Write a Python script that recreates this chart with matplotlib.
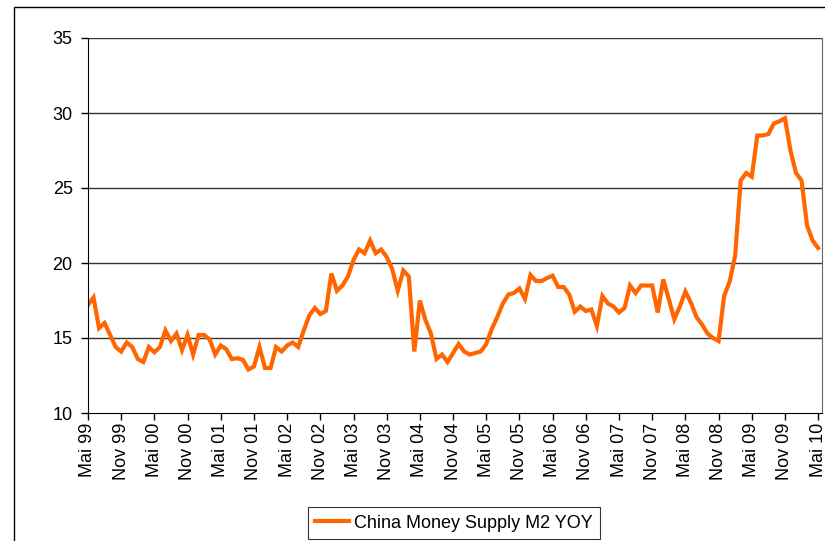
import matplotlib.pyplot as plt
from matplotlib.patches import Rectangle

plt.rcParams['font.family'] = ['Liberation Sans', 'DejaVu Sans']

# China M2 money supply, year over year %, monthly May 1999 - May 2010
m2_yoy = [17.2, 17.7, 15.65, 16.0, 15.2, 14.4, 14.1, 14.7, 14.4, 13.6,
          13.4, 14.4, 14.05, 14.4, 15.5, 14.8, 15.3, 14.2, 15.2, 13.9,
          15.2, 15.2, 14.9, 13.9, 14.5, 14.25, 13.6, 13.65, 13.55, 12.9,
          13.1, 14.4, 13.0, 13.0, 14.4, 14.1, 14.5, 14.7, 14.4, 15.5,
          16.5, 17.0, 16.6, 16.8, 19.3, 18.15, 18.5, 19.1, 20.2, 20.9,
          20.65, 21.5, 20.65, 20.9, 20.4, 19.6, 18.15, 19.5, 19.1, 14.1,
          17.5, 16.2, 15.3, 13.6, 13.9, 13.4, 14.0, 14.6, 14.1, 13.9,
          14.0, 14.1, 14.6, 15.6, 16.4, 17.3, 17.9, 18.0, 18.3, 17.6,
          19.2, 18.8, 18.8, 19.0, 19.15, 18.4, 18.4, 17.9, 16.75, 17.1,
          16.8, 16.9, 15.8, 17.8, 17.3, 17.1, 16.7, 17.0, 18.5, 18.0,
          18.5, 18.5, 18.5, 16.7, 18.9, 17.6, 16.25, 17.1, 18.1, 17.35,
          16.4, 15.9, 15.3, 15.0, 14.8, 17.8, 18.75, 20.5, 25.5, 26.0,
          25.75, 28.5, 28.5, 28.6, 29.3, 29.45, 29.65, 27.5, 26.0, 25.5,
          22.5, 21.5, 21.0]

tick_labels = ['Mai 99', 'Nov 99', 'Mai 00', 'Nov 00', 'Mai 01', 'Nov 01',
               'Mai 02', 'Nov 02', 'Mai 03', 'Nov 03', 'Mai 04', 'Nov 04',
               'Mai 05', 'Nov 05', 'Mai 06', 'Nov 06', 'Mai 07', 'Nov 07',
               'Mai 08', 'Nov 08', 'Mai 09', 'Nov 09', 'Mai 10']
y_ticks = [10, 15, 20, 25, 30, 35]

fig = plt.figure(figsize=(8.25, 5.41), dpi=100)
ax = fig.add_axes([88 / 825, 1 - 413 / 541, (822 - 88) / 825, (413 - 38) / 541])

months = list(range(len(m2_yoy)))
line, = ax.plot(months, m2_yoy, color='#FF6600', lw=3.0,
                solid_joinstyle='miter', label='China Money Supply M2 YOY')

ax.set_xlim(0, 132.7)
ax.set_ylim(10, 35)
ax.set_yticks(y_ticks)
ax.set_xticks(range(0, 6 * len(tick_labels), 6))
ax.set_xticklabels(tick_labels, rotation=90, fontsize=13)
ax.tick_params(axis='y', labelsize=13, length=5, width=1, direction='out', pad=6)
ax.tick_params(axis='x', length=5, width=1, direction='out', pad=2)

for v in y_ticks[1:]:
    ax.axhline(v, color='#333333', lw=1, zorder=1)

ax.spines['left'].set_color('black')
ax.spines['bottom'].set_color('black')
ax.spines['top'].set_visible(False)
ax.spines['right'].set_color('#666666')

leg = fig.legend(handles=[line], loc='center', bbox_to_anchor=(454 / 825, 1 - 523 / 541),
                 fontsize=13, frameon=True, fancybox=False, edgecolor='black',
                 handlelength=1.9, borderpad=0.4, handletextpad=0.3)
leg.get_frame().set_linewidth(0.8)

# chart area border
fig.patches.append(Rectangle((13.5 / 825, -0.01), 1.0, 1 - 7 / 541 + 0.01,
                             transform=fig.transFigure, fill=False,
                             edgecolor='black', lw=1))

fig.savefig('out.png', dpi=100)
